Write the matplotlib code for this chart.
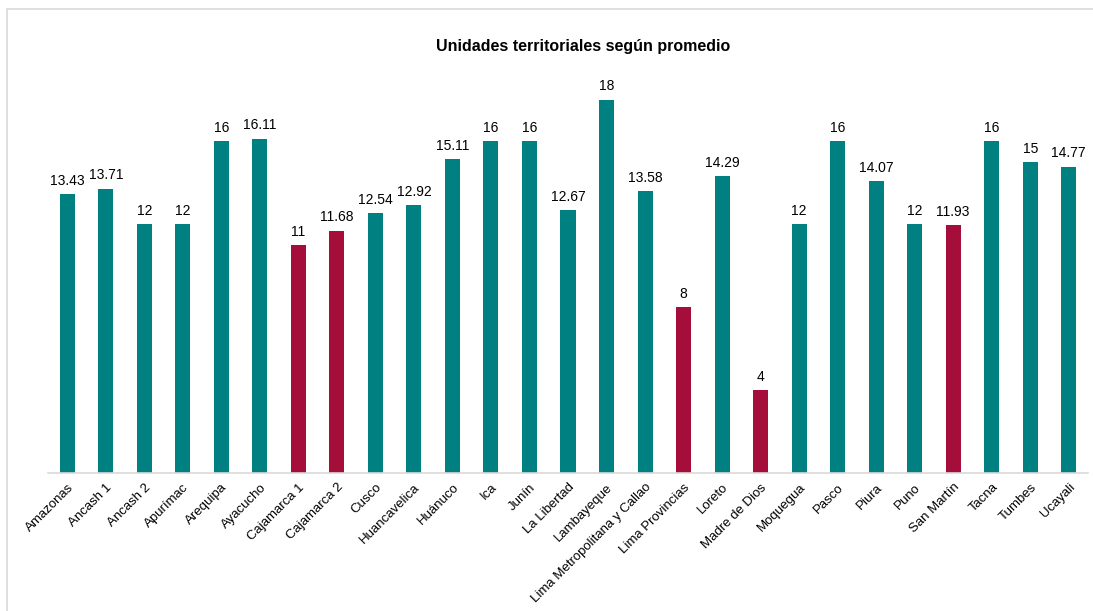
import matplotlib
matplotlib.use("Agg")
from matplotlib import pyplot as plt
from matplotlib.patches import Rectangle

plt.rcParams['font.family'] = ['Liberation Sans', 'DejaVu Sans']

regiones = ["Amazonas", "Ancash 1", "Ancash 2", "Apurímac", "Arequipa", "Ayacucho",
            "Cajamarca 1", "Cajamarca 2", "Cusco", "Huancavelica", "Huánuco", "Ica",
            "Junín", "La Libertad", "Lambayeque", "Lima Metropolitana y Callao",
            "Lima Provincias", "Loreto", "Madre de Dios", "Moquegua", "Pasco", "Piura",
            "Puno", "San Martín", "Tacna", "Tumbes", "Ucayali"]
promedio = [13.43, 13.71, 12, 12, 16, 16.11, 11, 11.68, 12.54, 12.92, 15.11, 16,
            16, 12.67, 18, 13.58, 8, 14.29, 4, 12, 16, 14.07, 12, 11.93, 16, 15, 14.77]
etiquetas = ["13.43", "13.71", "12", "12", "16", "16.11", "11", "11.68", "12.54",
             "12.92", "15.11", "16", "16", "12.67", "18", "13.58", "8", "14.29", "4",
             "12", "16", "14.07", "12", "11.93", "16", "15", "14.77"]
# barras debajo del umbral en rojo
rojos = ["Cajamarca 1", "Cajamarca 2", "Lima Provincias", "Madre de Dios", "San Martín"]

verde = "#008080"
rojo = "#A50D3A"

fig = plt.figure(figsize=(10.93, 6.11), dpi=100)
fig.patches.append(Rectangle((7/1093, -0.1), 1.2, (611-9)/611 + 0.1, transform=fig.transFigure,
                             fill=False, edgecolor="#d9d9d9", linewidth=1.2))

ax = fig.add_axes([48/1093, 138/611, 1040/1093, 415/611])
x = list(range(len(regiones)))
colores = [rojo if r in rojos else verde for r in regiones]
ax.bar(x, promedio, width=0.39, color=colores)

for xi, v, t in zip(x, promedio, etiquetas):
    ax.text(xi, v + 0.3, t, ha="center", va="bottom", fontsize=10, color="#000000")

ax.set_xlim(-0.5, len(regiones) - 0.5)
ax.set_ylim(0, 20)
ax.set_yticks([])
ax.set_xticks(x)
ax.set_xticklabels(regiones, rotation=45, ha="right", rotation_mode="anchor", fontsize=9.5)
ax.tick_params(axis="x", length=0, pad=6)
for s in ["top", "right", "left"]:
    ax.spines[s].set_visible(False)
ax.spines["bottom"].set_color("#d9d9d9")
ax.spines["bottom"].set_linewidth(1.2)

fig.text(583/1093, 1 - 47/611, "Unidades territoriales según promedio", ha="center",
         va="center", fontsize=11.5, fontweight="bold")

fig.savefig("out.png", dpi=100)
